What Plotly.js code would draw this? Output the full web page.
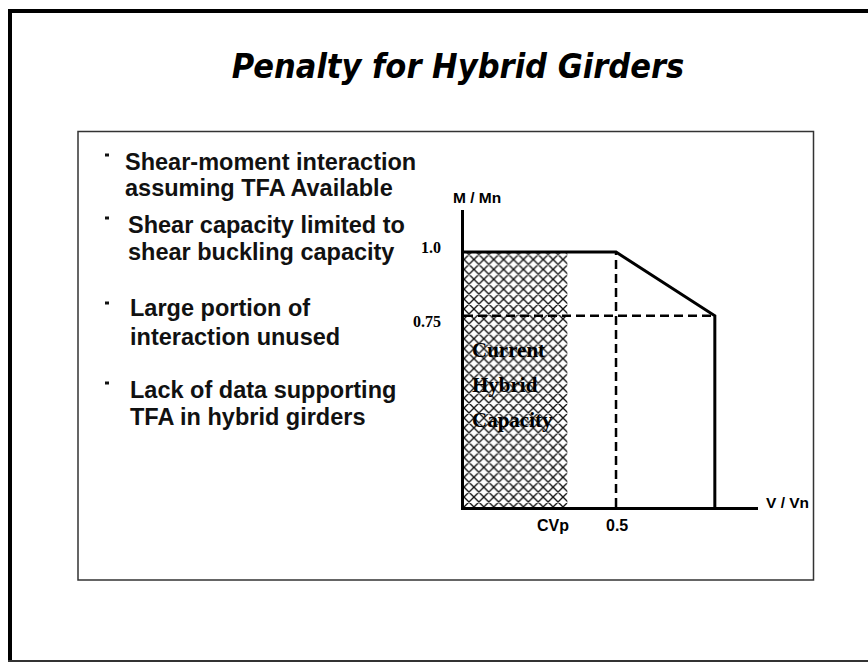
<!DOCTYPE html>
<html>
<head>
<meta charset="utf-8">
<script src="https://cdn.plot.ly/plotly-3.0.1.min.js"></script>
<style>html,body{margin:0;padding:0;background:#fff;}#chart{width:868px;height:662px;}</style>
</head>
<body>
<div id="chart"></div>
<script>
// ---- data ----
const envelopeV = [0, 0.5, 0.825, 0.825];
const envelopeM = [1.0, 1.0, 0.75, 0];
const dashHV = [0, 0.825];
const dashHM = [0.75, 0.75];
const dashVV = [0.5, 0.5];
const dashVM = [0, 1.0];
const cvp = 0.34;
const regionV = [0, cvp, cvp, 0, 0];
const regionM = [0, 0, 1.0, 1.0, 0];
const xTickVals = [cvp, 0.5];
const xTickText = ['CVp', '0.5'];
const yTickVals = [1.0, 0.75];
const yTickText = ['1.0', '0.75'];
const regionLabel = ['Current', 'Hybrid', 'Capacity'];
const bullets = [
  ['Shear-moment interaction', 'assuming TFA Available'],
  ['Shear capacity limited to', 'shear buckling capacity'],
  ['Large portion of', 'interaction unused'],
  ['Lack of data supporting', 'TFA in hybrid girders']
];
const titleText = 'Penalty for Hybrid Girders';

// ---- layout geometry (pixels) ----
const L = 464, T = 210, W = 294, H = 297, FW = 868, FH = 662;
const px = x => (x - L) / W;
const py = y => (T + H - y) / H;

const traces = [
  {x: regionV, y: regionM, mode: 'lines', fill: 'toself', line: {width: 0, color: 'rgba(0,0,0,0)'},
   fillcolor: 'rgba(255,255,255,0)',
   fillpattern: {shape: 'x', fgcolor: '#111', bgcolor: '#fff', size: 7, solidity: 0.35},
   hoverinfo: 'skip', showlegend: false},
  {x: dashHV, y: dashHM, mode: 'lines', line: {color: '#000', width: 2.5, dash: '9px,5px'}, showlegend: false},
  {x: dashVV, y: dashVM, mode: 'lines', line: {color: '#000', width: 2.5, dash: '9px,5px'}, showlegend: false},
  {x: envelopeV, y: envelopeM, mode: 'lines', line: {color: '#000', width: 3}, showlegend: false}
];

const annotations = [];
const sansBold = 'Liberation Sans, Arial, sans-serif';
xTickText.forEach((t, i) => annotations.push({
  xref: 'x', yref: 'paper', x: xTickVals[i], y: 0, yshift: -18, xshift: i === 0 ? -14 : 1,
  text: t, showarrow: false, xanchor: 'center', yanchor: 'middle',
  font: {family: sansBold, size: 16, weight: 'bold', color: '#000'}
}));
yTickText.forEach((t, i) => annotations.push({
  xref: 'paper', yref: 'y', x: 0, xshift: -21, y: yTickVals[i], yshift: i === 0 ? 5 : -6,
  text: t, showarrow: false, xanchor: 'right', yanchor: 'middle',
  font: {family: 'Liberation Serif, Times New Roman, serif', size: 16, weight: 'bold', color: '#000'}
}));
annotations.push({xref: 'paper', yref: 'paper', x: px(477), y: py(197), text: 'M / Mn', showarrow: false,
  xanchor: 'center', yanchor: 'middle', font: {family: sansBold, size: 15.5, weight: 'bold', color: '#000'}});
annotations.push({xref: 'paper', yref: 'paper', x: px(787), y: py(502), text: 'V / Vn', showarrow: false,
  xanchor: 'center', yanchor: 'middle', font: {family: sansBold, size: 15.5, weight: 'bold', color: '#000'}});
const labY = [350, 385, 420];
regionLabel.forEach((t, i) => annotations.push({
  xref: 'paper', yref: 'paper', x: px(470), y: py(labY[i]), text: t, showarrow: false,
  xanchor: 'left', yanchor: 'middle',
  font: {family: 'Liberation Serif, Times New Roman, serif', size: 21, weight: 'bold', color: '#000'}
}));
const bulletX = [123, 127, 129, 129];
const bulletY = [[162, 188], [225, 252], [308, 337], [390, 417]];
const dotY = [155, 218, 303, 383];
const shapes = [];
bullets.forEach((lines, i) => {
  lines.forEach((t, j) => annotations.push({
    xref: 'paper', yref: 'paper', x: px(bulletX[i] - (i === 0 ? 0 : 1)), y: py(bulletY[i][j]),
    text: t, showarrow: false, xanchor: 'left', yanchor: 'middle',
    font: {family: sansBold, size: 23.5, weight: 'bold', color: '#111'}
  }));
  shapes.push({type: 'rect', xref: 'paper', yref: 'paper', x0: px(105), x1: px(109), y0: py(dotY[i] - 1.5), y1: py(dotY[i] + 1.5),
    fillcolor: '#111', line: {width: 0}});
});
// frames
shapes.push({type: 'line', xref: 'paper', yref: 'paper', x0: px(8), x1: px(FW + 5), y0: py(11), y1: py(11), line: {color: '#000', width: 4}});
shapes.push({type: 'line', xref: 'paper', yref: 'paper', x0: px(10), x1: px(10), y0: py(9), y1: py(FH + 3), line: {color: '#000', width: 4}});
shapes.push({type: 'line', xref: 'paper', yref: 'paper', x0: px(8), x1: px(FW + 5), y0: py(662), y1: py(662), line: {color: '#333', width: 4}});
shapes.push({type: 'rect', xref: 'paper', yref: 'paper', x0: px(78), x1: px(813.5), y0: py(131.5), y1: py(580), line: {color: '#333', width: 1.5}});

const layout = {
  width: FW, height: FH,
  margin: {l: L, t: T, r: FW - L - W, b: FH - T - H, pad: 0},
  paper_bgcolor: '#fff', plot_bgcolor: '#fff',
  showlegend: false,
  title: {text: titleText, xref: 'container', yref: 'container', x: 458 / FW, y: 1 - 66 / FH,
    xanchor: 'center', yanchor: 'middle',
    font: {family: 'DejaVu Sans Condensed, DejaVu Sans, sans-serif', size: 34, weight: 'bold', style: 'italic', color: '#000'}},
  xaxis: {range: [0, 0.967], showline: true, linewidth: 3, linecolor: '#000', showgrid: false, zeroline: false,
    showticklabels: false, ticks: '', fixedrange: true},
  yaxis: {range: [0, 1.165], showline: true, linewidth: 3, linecolor: '#000', showgrid: false, zeroline: false,
    showticklabels: false, ticks: '', fixedrange: true},
  annotations: annotations,
  shapes: shapes
};
Plotly.newPlot('chart', traces, layout, {staticPlot: true});
</script>
</body>
</html>
